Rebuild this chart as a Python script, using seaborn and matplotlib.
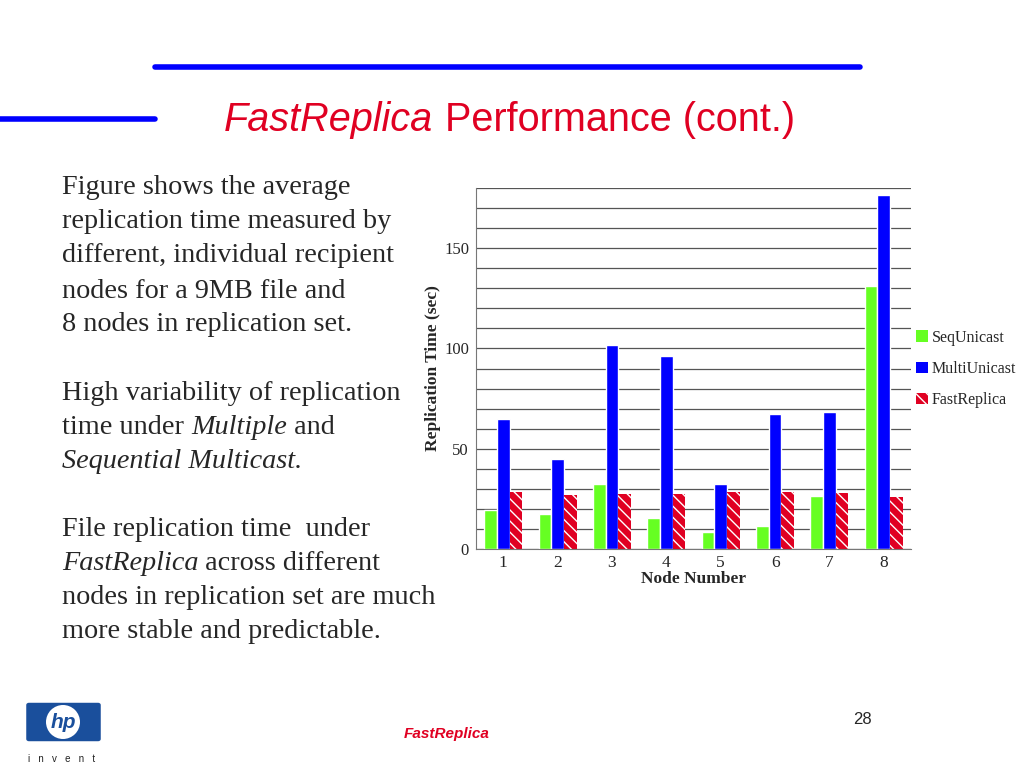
import pandas as pd
import seaborn as sns
import matplotlib.pyplot as plt
from matplotlib.patches import Patch, FancyBboxPatch, Ellipse
from matplotlib.lines import Line2D

# data
nodes = ['1', '2', '3', '4', '5', '6', '7', '8']
seq_unicast = [19.6, 17.4, 32.5, 15.4, 8.3, 11.6, 26.4, 130.9]
multi_unicast = [64.9, 44.8, 101.6, 96.0, 32.5, 67.3, 68.1, 176.4]
fast_replica = [28.4, 27.1, 27.6, 27.6, 28.4, 28.4, 27.9, 25.7]
series = ['SeqUnicast', 'MultiUnicast', 'FastReplica']
colors = {'SeqUnicast': '#66ff22', 'MultiUnicast': '#0000ff', 'FastReplica': '#e00022'}

body_lines = [
    (186, [("Figure shows the average", 'normal')]),
    (220, [("replication time measured by", 'normal')]),
    (254, [("different, individual recipient", 'normal')]),
    (289, [("nodes for a 9MB file and", 'normal')]),
    (323, [("8 nodes in replication set.", 'normal')]),
    (391, [("High variability of replication", 'normal')]),
    (425, [("time under ", 'normal'), ("Multiple", 'italic'), (" and", 'normal')]),
    (459, [("Sequential Multicast.", 'italic')]),
    (528, [("File replication time  under", 'normal')]),
    (562, [("FastReplica", 'italic'), (" across different", 'normal')]),
    (596, [("nodes in replication set are much", 'normal')]),
    (630, [("more stable and predictable.", 'normal')]),
]

df = pd.DataFrame({
    'node': nodes * 3,
    'series': [s for s in series for _ in nodes],
    'time': seq_unicast + multi_unicast + fast_replica,
})

sns.set_style('white')
plt.rcParams['font.family'] = ['Liberation Serif', 'DejaVu Serif']
plt.rcParams['hatch.linewidth'] = 1.0

W, H = 1024, 768
fig = plt.figure(figsize=(W / 100, H / 100), dpi=100)
fig.patch.set_facecolor('white')


def px(x, y):
    return x / W, 1 - y / H


# slide decorations
fig.add_artist(Line2D([155 / W, 860 / W], [1 - 67 / H] * 2, color='#0000ff', lw=4))
fig.add_artist(Line2D([0, 155 / W], [1 - 119 / H] * 2, color='#0000ff', lw=4))

# title with italic first word
tx, ty = px(224, 131)
t1 = fig.text(tx, ty, 'FastReplica', family='Liberation Sans', style='italic',
              color='#e00022', fontsize=28.5, va='baseline')
fig.canvas.draw()
renderer = fig.canvas.get_renderer()
bb = t1.get_window_extent(renderer)
fig.text(bb.x1 / W + 12 / W, ty, 'Performance (cont.)', family='Liberation Sans',
         color='#e00022', fontsize=28.5, va='baseline')

# body text
for y, parts in body_lines:
    x = 62
    for s, st in parts:
        t = fig.text(x / W, 1 - (y + 2) / H, s, fontsize=20.3, style=st, va='center')
        x = t.get_window_extent(renderer).x1

# footer
fig.text(*px(447, 734), 'FastReplica', family='Liberation Sans', style='italic',
         weight='bold', color='#e00022', fontsize=11, ha='center', va='center')
fig.text(*px(862, 720), '28', family='Liberation Sans', fontsize=12,
         ha='center', va='center')

# hp logo
fig.add_artist(FancyBboxPatch(px(29, 739), 69 / W, 34 / H,
                              boxstyle='round,pad=0.002', transform=fig.transFigure,
                              facecolor='#1a4f9c', edgecolor='#1a4f9c'))
fig.add_artist(Ellipse(px(63, 722), 34 / W, 34 / H, transform=fig.transFigure,
                       facecolor='white', edgecolor='none'))
fig.text(*px(63, 723), 'hp', family='Liberation Sans', style='italic', weight='bold',
         color='#1a4f9c', fontsize=15, ha='center', va='center')
fig.text(*px(62, 759), 'i   n   v   e   n   t', family='Liberation Sans', fontsize=7,
         ha='center', va='center', color='#222222')

# chart
ax = fig.add_axes([476 / W, 1 - 549 / H, 435 / W, 361 / H])
sns.barplot(data=df, x='node', y='time', hue='series', hue_order=series,
            palette=colors, width=0.7, ax=ax, legend=False, saturation=1)

for bar in ax.containers[2]:
    bar.set_hatch('\\\\\\')
    bar.set_edgecolor('white')
    bar.set_linewidth(0)

ax.set_ylim(0, 180)
ax.set_yticks([0, 50, 100, 150])
ax.set_yticks(range(0, 181, 10), minor=True)
ax.grid(True, axis='y', which='both', color='#555555', lw=0.9)
ax.set_axisbelow(True)
for side in ['right', 'top']:
    ax.spines[side].set_visible(False)
ax.spines['left'].set_color('#777777')
ax.spines['bottom'].set_color('#777777')
ax.tick_params(axis='y', which='major', length=4, labelsize=12, color='#777777', pad=1)
ax.tick_params(axis='y', which='minor', length=0)
ax.tick_params(axis='x', length=0, labelsize=12.5, pad=4)
ax.set_xlabel('Node Number', fontsize=12.5, weight='bold', labelpad=0)
ax.set_ylabel('Replication Time (sec)', fontsize=12.5, weight='bold', labelpad=2)

handles = [Patch(facecolor=colors[s], edgecolor='white' if s == 'FastReplica' else colors[s],
                 hatch='\\\\\\' if s == 'FastReplica' else None, lw=0) for s in series]
fig.legend(handles, series, loc='center left', bbox_to_anchor=(910 / W, 1 - 369 / H),
           frameon=False, fontsize=11.5, handlelength=0.75, handleheight=0.75,
           handletextpad=0.2, labelspacing=0.95, borderaxespad=0)

fig.savefig('out.png', dpi=100)
